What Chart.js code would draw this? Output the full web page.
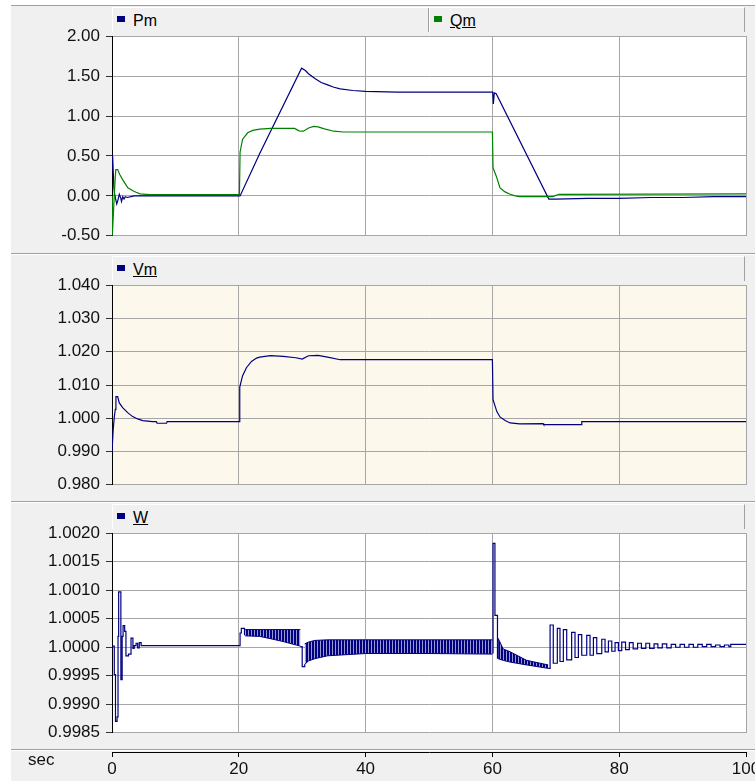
<!DOCTYPE html>
<html>
<head>
<meta charset="utf-8">
<script src="https://cdn.jsdelivr.net/npm/chart.js@4.4.1/dist/chart.umd.min.js"></script>
<style>
  body { margin: 0; background: #fff; font-family: "Liberation Sans", Arial, sans-serif; }
  #page { position: absolute; left: 11px; top: 5px; width: 744px; height: 776px; background: #f0f0f0; border-top: 1px solid #a0a0a0; }
  .sep { position: absolute; left: 11px; width: 744px; height: 1px; background: #a0a0a0; border-bottom: 1px solid #fff; }
  canvas { position: absolute; left: 0; z-index: 1; }
  .bar { position: absolute; left: 112px; width: 633px; height: 25px; box-sizing: border-box; z-index: 2;
         background: #f0f0f0; border-top: 1px solid #fff; border-left: 1px solid #fff; border-right: 1px solid #a0a0a0; }
  .cell { position: absolute; top: 0; height: 24px; box-sizing: border-box; }
  .cell .box { position: absolute; left: 4px; top: 8px; width: 8px; height: 6px; }
  .cell .txt { position: absolute; left: 20px; top: 4px; line-height: 18px; font-size: 16px; color: #000; white-space: nowrap; }
  #sec { position: absolute; left: 28px; top: 751px; line-height: 18px; font-size: 17px; color: #111; z-index: 2; }
</style>
</head>
<body>
<div id="page"></div>
<div class="sep" style="top:253px"></div>
<div class="sep" style="top:501px"></div>
<div class="sep" style="top:749px"></div>
<canvas id="c1"></canvas>
<canvas id="c2"></canvas>
<canvas id="c3"></canvas>
<canvas id="cx"></canvas>
<div id="sec">sec</div>
<script>
// time axis, seconds
var xTicks = [0, 20, 40, 60, 80, 100];

// Pm / Qm
var pmTime = [0, 0.1, 0.3, 0.4, 0.55, 0.75, 0.95, 1.15, 1.35, 1.5, 1.7, 1.9, 2.1, 2.4, 3.0, 3.5, 20.2, 23.3, 29.9, 30.5,
  31, 32, 33, 34, 35, 36, 38, 40, 45, 60.05, 60.15, 60.3, 60.6, 68.9, 70, 75, 80, 85, 90, 95, 100];
var pmVal = [0.33, 0.5, 0.1, 0.03, -0.03, -0.1, -0.05, 0.02, -0.02, -0.07, -0.01, -0.04, -0.01, -0.02, -0.01, 0.0, 0.0, 0.53, 1.6, 1.57,
  1.53, 1.47, 1.42, 1.39, 1.36, 1.34, 1.32, 1.31, 1.30, 1.30, 1.15, 1.29, 1.28, -0.04, -0.04, -0.03, -0.03, -0.02, -0.02, -0.01, -0.01];
var qmTime = [0, 0.05, 0.45, 0.6, 0.9, 1.2, 1.7, 2.1, 2.5, 3.3, 3.8, 4.4, 5.4, 6.0, 20.1, 20.2, 20.6, 21.4, 22.2, 23.3,
  25, 28.8, 29.5, 30.2, 31.0, 31.8, 32.5, 33.5, 35, 36.5, 60.0, 60.1, 60.6, 61.2, 62.0, 62.8, 63.6, 64.3, 69.5, 70.5, 100];
var qmVal = [0.0, -0.5, 0.15, 0.33, 0.33, 0.27, 0.2, 0.15, 0.1, 0.065, 0.045, 0.025, 0.02, 0.015, 0.015, 0.55, 0.71, 0.79, 0.82, 0.835,
  0.845, 0.845, 0.815, 0.81, 0.85, 0.87, 0.865, 0.84, 0.81, 0.80, 0.80, 0.35, 0.25, 0.10, 0.05, 0.02, 0.0, -0.01, -0.01, 0.02, 0.025];

// Vm
var vmTime = [0, 0.2, 0.36, 0.52, 0.62, 0.89, 1.15, 1.68, 2.47, 3.26, 4.05, 4.84, 6.4, 7.0, 7.1, 8.6, 8.7, 20.1, 20.15, 20.6,
  21.2, 22.0, 22.8, 23.3, 25, 27, 29, 30, 31, 32.5, 34, 36, 60.0, 60.1, 60.7, 61.2, 62.0, 62.8, 64.3, 68, 68.1, 74, 74.1, 100];
var vmVal = [0.990, 0.9969, 1.0003, 1.0027, 1.0065, 1.0065, 1.0046, 1.0032, 1.0017, 1.0005, 0.9998, 0.9993, 0.9990, 0.9990, 0.9985, 0.9985, 0.9990, 0.9990, 1.0094, 1.0128,
  1.0152, 1.0171, 1.0181, 1.0184, 1.0188, 1.0186, 1.0182, 1.0178, 1.0188, 1.0189, 1.0184, 1.0176, 1.0176, 1.0056, 1.0020, 1.0004, 0.9993, 0.9986, 0.9983, 0.9984, 0.9981, 0.9981, 0.9990, 0.9990];

// W (step trace, null = where the dense band takes over)
var wTime = [0, 0.36, 0.55, 0.8, 0.95, 1.05, 1.4, 1.6, 1.75, 2.0, 2.2, 2.6, 3.0, 3.3, 3.5, 3.8, 4.05, 4.3, 4.6, 20.2,
  20.4, 20.9, 21.0, 21.05, 29.7, 30.0, 30.4, 30.45, 60.0, 60.1, 60.4, 60.8, 60.9, 60.95, 68.8, 69.1, 69.6, 70.24, 70.66, 71.19,
  71.72, 72.5, 73.03, 73.56, 74.09, 74.88, 75.4, 75.93, 76.46, 77.25, 77.77, 78.3, 78.83, 79.35, 79.87, 80.4, 81.0, 81.6, 82.2, 82.9,
  83.5, 84.2, 84.8, 85.5, 86.1, 86.8, 87.5, 88.2, 88.9, 89.6, 90.3, 91.0, 91.7, 92.4, 93.1, 93.8, 94.5, 95.2, 95.9, 96.6,
  97.3, 97.6, 100];
var wVal = [1.00002, 0.99952, 0.99870, 0.99878, 1.00019, 1.00097, 0.99943, 1.00019, 1.00038, 1.00028, 0.99985, 0.99988, 1.00016, 0.99998, 1.00003, 1.00007, 0.99999, 1.00008, 1.00003, 1.00025,
  1.00033, 1.00022, 1.00022, null, 1.00001, 0.99966, 0.99970, null, 0.99990, 1.00182, 1.00056, 0.99981, 0.99981, null, 0.99963, 1.00039, 0.99972, 1.00033, 0.99975, 1.00031,
  0.99978, 1.00026, 0.99982, 1.00022, 0.99986, 1.00021, 0.99986, 1.00017, 0.99989, 1.00014, 0.99992, 1.00011, 0.99993, 1.00008, 0.99994, 1.00009, 0.99996, 1.00008, 0.99997, 1.00007,
  0.99998, 1.00007, 0.99998, 1.00006, 0.99999, 1.00006, 0.99999, 1.00005, 1.00000, 1.00005, 1.00000, 1.00005, 1.00000, 1.00005, 1.00001, 1.00005, 1.00001, 1.00004, 1.00001, 1.00004,
  1.00001, 1.00005, 1.00005];
// envelope of the fast oscillation
var bandTime = [21.0, 23.3, 25, 27, 29.7, 30.0, 30.4, 31, 32, 34, 40, 50, 60.0, 60.5, 60.9, 61.7, 62.8, 65.4, 68.8];
var bandHigh = [1.00031, 1.00031, 1.00031, 1.00031, 1.00031, null, 1.00006, 1.00009, 1.00012, 1.00013, 1.00013, 1.00013, 1.00013, null, 1.00016, 0.99997, 0.99992, 0.99977, 0.99969];
var bandLow = [1.00020, 1.00019, 1.00015, 1.00010, 1.00002, null, 0.99970, 0.99976, 0.99980, 0.99985, 0.99989, 0.99989, 0.99988, null, 0.99980, 0.99977, 0.99974, 0.99969, 0.99963];

var NAVY = '#000080', GREEN = '#008000';
var GRID = '#a6a6a6';
var FONT = '"Liberation Sans", Arial, sans-serif';

function pts(ts, vs) {
  return ts.map(function (t, i) { return { x: t, y: vs[i] }; });
}

// fills the plot area behind the traces
var areaFill = {
  id: 'areaFill',
  beforeDraw: function (chart, args, opts) {
    var a = chart.chartArea, ctx = chart.ctx;
    ctx.save();
    ctx.fillStyle = opts.color;
    ctx.fillRect(a.left, a.top, a.right - a.left, a.bottom - a.top);
    ctx.restore();
  }
};

function stripes() {
  var c = document.createElement('canvas');
  c.width = 3; c.height = 1;
  var g = c.getContext('2d');
  g.fillStyle = '#9a9ad0'; g.fillRect(0, 0, 3, 1);
  g.fillStyle = NAVY; g.fillRect(0, 0, 2, 1);
  return g.createPattern(c, 'repeat');
}

function xScale() {
  return {
    type: 'linear', min: 0, max: 100,
    afterBuildTicks: function (s) { s.ticks = xTicks.map(function (v) { return { value: v }; }); },
    ticks: { display: false },
    grid: { color: function (c) { return c.tick && c.tick.value === 0 ? 'rgba(0,0,0,0)' : GRID; }, drawTicks: false, lineWidth: 1 },
    border: { display: false },
    afterFit: function (s) { s.height = 0; }
  };
}

function yScale(min, max, step, digits) {
  return {
    min: min, max: max,
    ticks: { stepSize: step, color: '#111', padding: 6, font: { family: FONT, size: 17 },
      callback: function (v) { return Number(v).toFixed(digits); } },
    grid: { color: GRID, tickColor: '#333', tickLength: 6, lineWidth: 1 },
    border: { display: true, color: '#000', width: 1 },
    afterFit: function (s) { s.width = 112; }
  };
}

function panel(id, plotTop, bg, y, datasets) {
  var canvas = document.getElementById(id);
  canvas.width = 755;
  canvas.height = 232;
  canvas.style.top = (plotTop - 12) + 'px';
  return new Chart(canvas, {
    type: 'line',
    data: { datasets: datasets },
    plugins: [areaFill],
    options: {
      responsive: false, animation: false, devicePixelRatio: 1,
      layout: { padding: { top: 12, bottom: 12, left: 0, right: 9 } },
      elements: { point: { radius: 0 }, line: { borderWidth: 1.2, tension: 0 } },
      plugins: { legend: { display: false }, tooltip: { enabled: false }, areaFill: { color: bg } },
      scales: { x: xScale(), y: y }
    }
  });
}

// header strip above each plot, built from the dataset labels
function legendBar(plotTop, items) {
  var bar = document.createElement('div');
  bar.className = 'bar';
  bar.style.top = (plotTop - 25) + 'px';
  var left = 0;
  items.forEach(function (it, i) {
    var cell = document.createElement('div');
    cell.className = 'cell';
    cell.style.left = left + 'px';
    cell.style.width = it.width + 'px';
    if (i < items.length - 1) cell.style.borderRight = '1px solid #a0a0a0';
    if (i > 0) cell.style.borderLeft = '1px solid #fff';
    cell.innerHTML = '<div class="box" style="background:' + it.color + '"></div>' +
      '<div class="txt" style="text-decoration:' + (it.underline ? 'underline' : 'none') + '">' + it.label + '</div>';
    bar.appendChild(cell);
    left += it.width;
  });
  document.body.appendChild(bar);
}

var pm = { label: 'Pm', data: pts(pmTime, pmVal), borderColor: NAVY, order: 2 };
var qm = { label: 'Qm', data: pts(qmTime, qmVal), borderColor: GREEN, order: 1 };
panel('c1', 32, '#ffffff', yScale(-0.5, 2.0, 0.5, 2), [pm, qm]);
legendBar(32, [
  { label: pm.label, color: NAVY, width: 316, underline: false },
  { label: qm.label, color: GREEN, width: 316, underline: true }
]);

var vm = { label: 'Vm', data: pts(vmTime, vmVal), borderColor: NAVY };
panel('c2', 281, '#fdf8ec', yScale(0.98, 1.04, 0.01, 3), [vm]);
legendBar(281, [{ label: vm.label, color: NAVY, width: 631, underline: true }]);

var w = { label: 'W', data: pts(wTime, wVal), borderColor: NAVY, stepped: true };
var wHigh = { label: 'W+', data: pts(bandTime, bandHigh), borderColor: NAVY, borderWidth: 1, fill: false };
var wLow = { label: 'W-', data: pts(bandTime, bandLow), borderColor: NAVY, borderWidth: 1, fill: '-1', backgroundColor: stripes() };
panel('c3', 529, '#ffffff', yScale(0.9985, 1.002, 0.0005, 4), [w, wHigh, wLow]);
legendBar(529, [{ label: w.label, color: NAVY, width: 631, underline: true }]);

// shared time axis under the last plot
var cx = document.getElementById('cx');
cx.width = 755;
cx.height = 41;
cx.style.top = '740px';
new Chart(cx, {
  type: 'line',
  data: { datasets: [] },
  options: {
    responsive: false, animation: false, devicePixelRatio: 1,
    layout: { padding: { left: 112, right: 9, top: 0, bottom: 0 } },
    plugins: { legend: { display: false }, tooltip: { enabled: false } },
    scales: {
      x: {
        type: 'linear', position: 'bottom', min: 0, max: 100,
        afterBuildTicks: function (s) { s.ticks = xTicks.map(function (v) { return { value: v }; }); },
        ticks: { color: '#111', padding: 2, maxRotation: 0, autoSkip: false, font: { family: FONT, size: 17 } },
        grid: { drawOnChartArea: false, tickLength: 5, tickColor: '#000' },
        border: { color: '#000' },
        afterFit: function (s) { s.height = 29; s.paddingLeft = 0; s.paddingRight = 0; }
      },
      y: { display: false }
    }
  }
});
</script>
</body>
</html>
